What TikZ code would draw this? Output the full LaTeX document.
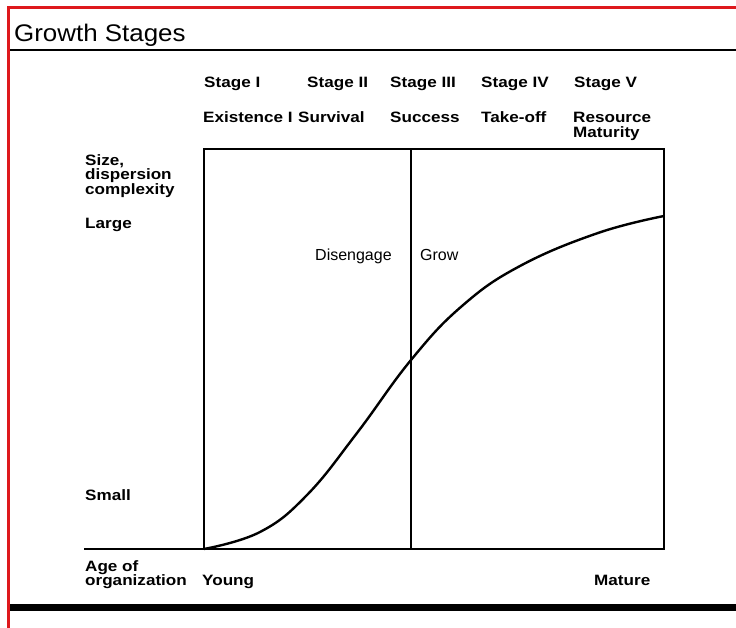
\documentclass[tikz,border=0pt]{standalone}
\usepackage{fontspec}
\setmainfont{Liberation Sans}
\newfontfamily\headfont{Liberation Sans}[FakeStretch=1.08]
\newfontfamily\lblfont{Liberation Sans}[FakeStretch=1.14]
\usepackage{tikz}
\definecolor{pagered}{RGB}{222,24,28}
\tikzset{
redframe/.style={pagered, line width=3pt}, % red edge of the page
rule/.style={line width=1.3pt}, % thin line under the heading
bar/.style={line width=7pt}, % thick bar at the foot
titletext/.style={font=\headfont\fontsize{24}{26}\selectfont, anchor=base west, inner sep=0pt},
lbl/.style={font=\lblfont\bfseries\fontsize{15}{14.5}\selectfont, anchor=base west, inner sep=0pt},
multilbl/.style={lbl, anchor=north west, align=left},
zone/.style={font=\fontsize{16}{18}\selectfont, anchor=base west, inner sep=0pt},
chartline/.style={line width=1.3pt},
growth/.style={line width=2.4pt, line join=round},
}

\begin{document}
\begin{tikzpicture}[x=1pt, y=-1pt]
        \useasboundingbox (0,0) rectangle (736,628);

        % page frame
        \draw[redframe] (8.5,628) -- (8.5,7.5) -- (736,7.5);
        \node[titletext] (title) at (14,42) {Growth Stages};
        \draw[rule] (10,50) -- (736,50);
        \draw[bar] (10,607) -- (736,607);

        % stages
        \node[lbl] (st1) at (204,88) {Stage I};
        \node[lbl] (st2) at (307,88) {Stage II};
        \node[lbl] (st3) at (390,88) {Stage III};
        \node[lbl] (st4) at (481,88) {Stage IV};
        \node[lbl] (st5) at (574,88) {Stage V};
        \node[lbl] (nm1) at (203,123) {Existence I};
        \node[lbl] (nm2) at (298,123) {Survival};
        \node[lbl] (nm3) at (390,123) {Success};
        \node[lbl] (nm4) at (481,123) {Take-off};
        \node[multilbl] (nm5) at (573,112) {Resource\\Maturity};

        % axis labels
        \node[multilbl] (size) at (85,154) {Size,\\dispersion\\complexity};
        \node[lbl] (large) at (85,229) {Large};
        \node[lbl] (small) at (85,500) {Small};
        \node[multilbl] (age) at (85,560) {Age of\\organization};
        \node[lbl] (young) at (202,585) {Young};
        \node[lbl] (mature) at (594,585) {Mature};

        % chart box
        \coordinate (axisstart) at (84,549);
        \coordinate (origin) at (204,549);
        \coordinate (topleft) at (204,149);
        \coordinate (topright) at (664,149);
        \coordinate (botright) at (664,549);
        \coordinate (divtop) at (411,149);
        \coordinate (divbot) at (411,549);
        \draw[chartline] (axisstart) -- (botright) -- (topright) -- (topleft) -- (origin);
        \draw[chartline] (divtop) -- (divbot);

        \node[zone] (diseng) at (315,261) {Disengage};
        \node[zone] (grow) at (420,261) {Grow};

        % growth curve
        \draw[growth] plot[smooth, tension=0.7] coordinates {(origin) (260,532) (307,495)
        (357,433) (411,360) (462,306) (520,266) (598,233) (664,216)};
      \end{tikzpicture}
\end{document}
